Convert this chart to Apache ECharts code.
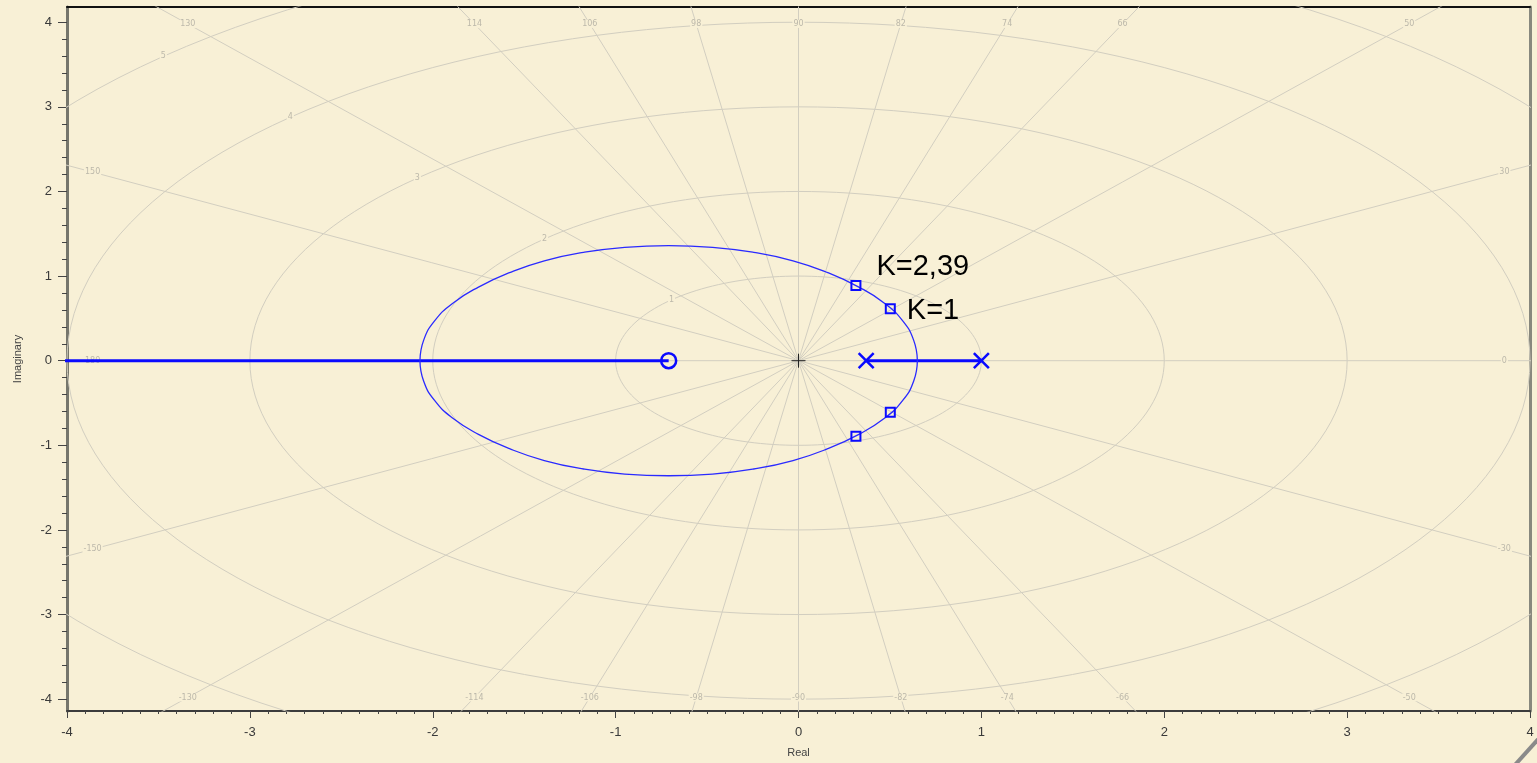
<!DOCTYPE html>
<html><head><meta charset="utf-8">
<script src="https://cdn.jsdelivr.net/npm/echarts@6/dist/echarts.min.js"></script>
<style>html,body{margin:0;padding:0;background:#F8F0D6;}#c{width:1537px;height:763px;}</style>
</head><body><div id="c"></div>
<script>
// ---- axis ticks ----
const realTicks = [-4, -3, -2, -1, 0, 1, 2, 3, 4];
const imagTicks = [-4, -3, -2, -1, 0, 1, 2, 3, 4];
const imagMinorTicks = [-4, -3.8, -3.6, -3.4, -3.2, -3, -2.8, -2.6, -2.4, -2.2, -2, -1.8, -1.6, -1.4, -1.2, -1,
  -0.8, -0.6, -0.4, -0.2, 0, 0.2, 0.4, 0.6, 0.8, 1, 1.2, 1.4, 1.6, 1.8, 2, 2.2, 2.4, 2.6, 2.8, 3, 3.2, 3.4, 3.6, 3.8, 4];

// ---- s-plane grid (radii and angle lines, in degrees) ----
const gridRadii = [1, 2, 3, 4, 5];
const gridAngles = [0, 30, 50, 66, 74, 82, 90, 98, 106, 114, 130, 150];
const angleLabels = [0, 30, 50, 66, 74, 82, 90, 98, 106, 114, 130, 150, 180,
  -150, -130, -114, -106, -98, -90, -82, -74, -66, -50, -30];
const radiusLabelAngle = 134;

// ---- root locus ----
const poles = [[0.37, 0], [1.0, 0]];
const zeros = [[-0.71, 0]];
const realLocusLeft = [[-4.3, 0], [-0.71, 0]];
const realLocusRight = [[0.37, 0], [1.0, 0]];
const arcUpper = [[0.65, 0], [0.63, 0.24], [0.57, 0.47], [0.47, 0.68], [0.33, 0.87], [0.16, 1.04],
  [-0.03, 1.18], [-0.245, 1.28], [-0.47, 1.34], [-0.71, 1.36], [-0.95, 1.34], [-1.175, 1.28],
  [-1.39, 1.18], [-1.58, 1.04], [-1.75, 0.87], [-1.89, 0.68], [-1.99, 0.47], [-2.05, 0.24], [-2.07, 0]];
const arcLower = [[0.65, 0], [0.63, -0.24], [0.57, -0.47], [0.47, -0.68], [0.33, -0.87], [0.16, -1.04],
  [-0.03, -1.18], [-0.245, -1.28], [-0.47, -1.34], [-0.71, -1.36], [-0.95, -1.34], [-1.175, -1.28],
  [-1.39, -1.18], [-1.58, -1.04], [-1.75, -0.87], [-1.89, -0.68], [-1.99, -0.47], [-2.05, -0.24], [-2.07, 0]];
const gainNames = ['K=2,39', 'K=1'];
const gainUpper = [[0.314, 0.888], [0.502, 0.614]];
const gainLower = [[0.314, -0.892], [0.502, -0.609]];

const BG = '#F8F0D6';
const GRIDC = '#d2cec0';
const BLUE = '#0a0aff';
const rad = d => d * Math.PI / 180;

function circlePts(r) {
  const p = [];
  for (let d = 0; d <= 360; d += 2) p.push([r * Math.cos(rad(d)), r * Math.sin(rad(d))]);
  return p;
}
const gridSeries = [];
gridRadii.forEach(r => gridSeries.push({
  type: 'line', data: circlePts(r), showSymbol: false, silent: true, z: 1,
  lineStyle: { color: GRIDC, width: 1 }
}));
gridAngles.forEach(a => gridSeries.push({
  type: 'line', data: [[-9 * Math.cos(rad(a)), -9 * Math.sin(rad(a))], [9 * Math.cos(rad(a)), 9 * Math.sin(rad(a))]],
  showSymbol: false, silent: true, z: 1, lineStyle: { color: GRIDC, width: 1 }
}));
const labelData = [];
angleLabels.forEach(a => {
  const c = Math.cos(rad(a)), s = Math.sin(rad(a));
  const t = Math.min(Math.abs(c) > 1e-9 ? 3.86 / Math.abs(c) : 99, Math.abs(s) > 1e-9 ? 3.98 / Math.abs(s) : 99);
  labelData.push({ name: String(a), value: [t * c, t * s] });
});
gridRadii.forEach(r => labelData.push({
  name: String(r), value: [r * Math.cos(rad(radiusLabelAngle)), r * Math.sin(rad(radiusLabelAngle))]
}));
gridSeries.push({
  type: 'scatter', data: labelData, symbolSize: 1, silent: true, z: 2,
  itemStyle: { color: 'rgba(0,0,0,0)', opacity: 1 },
  label: { show: true, position: 'inside', formatter: '{b}', fontSize: 8, color: '#bcb8aa',
    fontFamily: 'DejaVu Sans', backgroundColor: BG, padding: [0, 1] }
});

const chart = echarts.init(document.getElementById('c'));
chart.setOption({
  animation: false,
  backgroundColor: BG,
  grid: { left: 67, right: 7, top: 7, bottom: 50, show: true, backgroundColor: BG, borderColor: '#222', borderWidth: 1 },
  xAxis: [{
    type: 'value', min: -4, max: 4, interval: 1, position: 'bottom',
    axisLine: { onZero: false, lineStyle: { color: '#3c3c3c', width: 2 } },
    axisTick: { length: 7, lineStyle: { color: '#444' } },
    minorTick: { show: true, splitNumber: 10, length: 3, lineStyle: { color: '#444' } },
    splitLine: { show: false },
    axisLabel: { fontSize: 13, color: '#3a3a3a', margin: 15, fontFamily: 'Liberation Sans',
      customValues: realTicks },
    name: 'Real', nameLocation: 'middle', nameGap: 36,
    nameTextStyle: { fontSize: 11, color: '#444', fontFamily: 'Liberation Sans' }
  }, {
    type: 'value', min: -4, max: 4, position: 'top',
    axisLine: { show: true, onZero: false, lineStyle: { color: '#111', width: 2 } },
    axisTick: { show: false }, axisLabel: { show: false }, splitLine: { show: false }
  }],
  yAxis: [{
    type: 'value', min: -4.14, max: 4.18, position: 'left',
    axisLine: { show: true, onZero: false, lineStyle: { color: '#76766c', width: 3 } },
    axisTick: { show: true, length: 9, customValues: imagTicks, lineStyle: { color: '#444' } },
    axisLabel: { fontSize: 13, color: '#3a3a3a', margin: 15, fontFamily: 'Liberation Sans', customValues: imagTicks },
    splitLine: { show: false },
    name: 'Imaginary', nameLocation: 'middle', nameGap: 44, nameRotate: 90,
    nameTextStyle: { fontSize: 11, color: '#444', fontFamily: 'Liberation Sans' }
  }, {
    type: 'value', min: -4.14, max: 4.18, position: 'left',
    axisLine: { show: false, onZero: false },
    axisTick: { show: true, length: 5, customValues: imagMinorTicks, lineStyle: { color: '#444' } },
    axisLabel: { show: false }, splitLine: { show: false }
  }, {
    type: 'value', min: -4.14, max: 4.18, position: 'right',
    axisLine: { show: true, onZero: false, lineStyle: { color: '#88887e', width: 3 } },
    axisTick: { show: false }, axisLabel: { show: false }, splitLine: { show: false }
  }],
  series: gridSeries.concat([
    { type: 'line', data: realLocusLeft, showSymbol: false, z: 5, lineStyle: { color: BLUE, width: 3 } },
    { type: 'line', data: realLocusRight, showSymbol: false, z: 5, lineStyle: { color: BLUE, width: 3 } },
    { type: 'line', data: arcUpper, smooth: true, showSymbol: false, z: 5, lineStyle: { color: '#2a2aff', width: 1.3 } },
    { type: 'line', data: arcLower, smooth: true, showSymbol: false, z: 5, lineStyle: { color: '#2a2aff', width: 1.3 } },
    { type: 'scatter', data: poles, symbol: 'path://M0,0L10,10M10,0L0,10', symbolSize: 15, z: 6,
      itemStyle: { color: 'rgba(0,0,0,0)', borderColor: BLUE, borderWidth: 2.5, opacity: 1 } },
    { type: 'scatter', data: zeros, symbol: 'circle', symbolSize: 15, z: 6,
      itemStyle: { color: 'rgba(0,0,0,0)', borderColor: BLUE, borderWidth: 2.5, opacity: 1 } },
    { type: 'scatter', data: [[0, 0]], symbol: 'path://M5,0L5,10M0,5L10,5', symbolSize: 14, z: 6,
      itemStyle: { color: 'rgba(0,0,0,0)', borderColor: '#222', borderWidth: 1, opacity: 1 } },
    { type: 'scatter', symbol: 'rect', symbolSize: 9, z: 6,
      itemStyle: { color: 'rgba(0,0,0,0)', borderColor: BLUE, borderWidth: 2, opacity: 1 },
      data: [
        { name: gainNames[0], value: gainUpper[0], label: { show: true, position: 'right', distance: 15, offset: [0, -18.5] } },
        { name: gainNames[1], value: gainUpper[1], label: { show: true, position: 'right', distance: 11, offset: [0, 2.2] } }
      ],
      label: { formatter: '{b}', fontSize: 29, color: '#000', opacity: 1, fontFamily: 'Liberation Sans' } },
    { type: 'scatter', symbol: 'rect', symbolSize: 9, z: 6, data: gainLower,
      itemStyle: { color: 'rgba(0,0,0,0)', borderColor: BLUE, borderWidth: 2, opacity: 1 } }
  ]),
  graphic: [{ type: 'line', shape: { x1: 1541, y1: 736, x2: 1514, y2: 766 },
    style: { stroke: '#8a8a8a', lineWidth: 4 } }]
});
</script></body></html>
